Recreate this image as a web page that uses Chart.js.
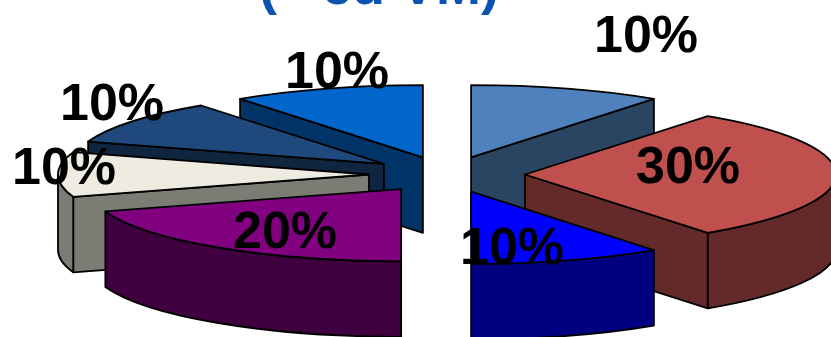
<!DOCTYPE html>
<html>
<head>
<meta charset="utf-8">
<title>Pie</title>
<style>
  html, body { margin: 0; padding: 0; background: #fff; overflow: hidden; }
  canvas { display: block; }
</style>
<script src="https://cdn.jsdelivr.net/npm/chart.js@4"></script>
</head>
<body>
<canvas id="pie3d" width="831" height="337"></canvas>
<script>
// Fatias em sentido horário a partir do topo
const categorias = ['A', 'B', 'C', 'D', 'E', 'F', 'G'];
const valores    = [10, 30, 10, 20, 10, 10, 10];
const coresTopo  = ['#4f81bd', '#c0504d', '#0000ff', '#800080', '#eeece1', '#1f497d', '#0066cc'];
const coresLado  = ['#2a4562', '#632a29', '#000080', '#400040', '#7c7b74', '#10253f', '#003366'];
const tituloAbre = '(';
const tituloResto = 'ed VM)';

// Posição de cada rótulo de porcentagem (centro do texto)
const rotulosXY = [[646, 38], [688, 169], [512, 250], [285, 234], [64, 170], [112, 106], [337, 74]];

const RAIO     = 311;   // raio horizontal
const ACHATA   = 0.232; // perspectiva: razão vertical/horizontal
const EXPLODE  = 78;    // afastamento de cada fatia a partir do centro
const ALTURA   = 75.5;  // espessura do disco

function desenhaFatia(ctx, arc, topo, lado) {
  const { x, y, startAngle: a0, endAngle: a1, outerRadius: r } = arc.getProps(['x', 'y', 'startAngle', 'endAngle', 'outerRadius'], true);
  const meio = (a0 + a1) / 2;
  const ox = x + Math.cos(meio) * EXPLODE;
  const oy = y + Math.sin(meio) * EXPLODE * ACHATA;
  const rx = r, ry = r * ACHATA;
  const px = a => ox + Math.cos(a) * rx;
  const py = a => oy + Math.sin(a) * ry;

  ctx.lineWidth = 1.8;
  ctx.lineJoin = 'round';
  ctx.strokeStyle = '#000';

  // Paredes radiais visíveis
  const parede = a => {
    ctx.beginPath();
    ctx.moveTo(ox, oy);
    ctx.lineTo(px(a), py(a));
    ctx.lineTo(px(a), py(a) + ALTURA);
    ctx.lineTo(ox, oy + ALTURA);
    ctx.closePath();
    ctx.fillStyle = lado;
    ctx.fill();
    ctx.stroke();
  };
  if (Math.sin(a0 - Math.PI / 2) > 0.001) parede(a0);
  if (Math.sin(a1 + Math.PI / 2) > 0.001) parede(a1);

  // Parede externa: só a metade da frente do arco aparece
  const f0 = Math.max(a0, 0), f1 = Math.min(a1, Math.PI);
  if (f1 > f0) {
    ctx.beginPath();
    ctx.ellipse(ox, oy, rx, ry, 0, f0, f1);
    ctx.ellipse(ox, oy + ALTURA, rx, ry, 0, f1, f0, true);
    ctx.closePath();
    ctx.fillStyle = lado;
    ctx.fill();
    ctx.stroke();
  }

  // Topo
  ctx.beginPath();
  ctx.moveTo(ox, oy);
  ctx.ellipse(ox, oy, rx, ry, 0, a0, a1);
  ctx.closePath();
  ctx.fillStyle = topo;
  ctx.fill();
  ctx.stroke();
}

const pizza3d = {
  id: 'pizza3d',
  beforeDatasetDraw(chart, args) {
    const ctx = chart.ctx;
    const arcs = chart.getDatasetMeta(args.index).data;
    // Desenha de trás para frente
    const ordem = arcs.map((arc, i) => i).sort((i, j) => {
      const m = k => Math.sin((arcs[k].startAngle + arcs[k].endAngle) / 2);
      return m(i) - m(j);
    });
    ctx.save();
    ordem.forEach(i => desenhaFatia(ctx, arcs[i], coresTopo[i], coresLado[i]));
    ctx.restore();
    return false;
  },
  afterDraw(chart) {
    const ctx = chart.ctx;
    const total = valores.reduce((s, v) => s + v, 0);
    ctx.save();
    ctx.textAlign = 'center';
    ctx.textBaseline = 'middle';
    ctx.fillStyle = '#000';
    ctx.font = 'bold 52px "Liberation Sans", Arial, sans-serif';
    valores.forEach((v, i) => {
      ctx.fillText(Math.round(v / total * 100) + '%', rotulosXY[i][0], rotulosXY[i][1]);
    });
    // Título cortado pela borda superior
    ctx.fillStyle = '#0b53b0';
    ctx.font = 'bold 54px "Liberation Sans", Arial, sans-serif';
    ctx.textBaseline = 'alphabetic';
    ctx.textAlign = 'left';
    ctx.fillText(tituloAbre, 259, 4);
    ctx.textAlign = 'right';
    ctx.fillText(tituloResto, 499, 4);
    ctx.restore();
  }
};

new Chart(document.getElementById('pie3d'), {
  type: 'pie',
  data: {
    labels: categorias,
    datasets: [{ data: valores, backgroundColor: coresTopo, radius: RAIO }]
  },
  options: {
    responsive: false,
    animation: false,
    layout: { padding: { left: 63, top: 12 } },
    plugins: { legend: { display: false }, tooltip: { enabled: false } }
  },
  plugins: [pizza3d]
});
</script>
</body>
</html>
